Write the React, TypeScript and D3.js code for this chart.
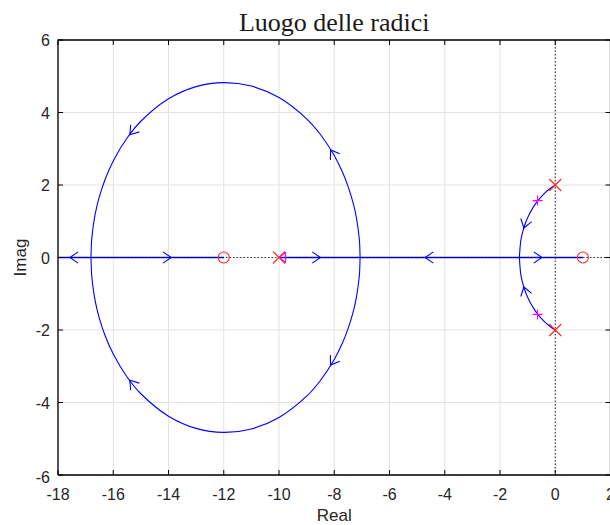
import React from "react";
import * as d3 from "d3";

// ---- data ----
const xTicks = [-18, -16, -14, -12, -10, -8, -6, -4, -2, 0, 2];
const yTicks = [-6, -4, -2, 0, 2, 4, 6];

const openLoopPoles: [number, number][] = [[0, 2], [0, -2], [-10, 0]];
const openLoopZeros: [number, number][] = [[-12, 0], [1, 0]];
const closedLoopPlus: [number, number][] = [[-0.64, 1.57], [-0.64, -1.57]];
const closedLoopTriangle: [number, number][] = [[-9.76, 0]];

// branches, listed in the direction of increasing gain
const upperArc: [number, number][] = [
  [-7.065, 0], [-7.08, 0.37], [-7.1, 0.566], [-7.2, 1.108], [-7.3, 1.457], [-7.5, 1.964],
  [-7.7, 2.352], [-8, 2.812], [-8.5, 3.392], [-9, 3.826], [-10, 4.413], [-11, 4.729],
  [-12, 4.825], [-13, 4.714], [-14, 4.378], [-15, 3.759], [-15.5, 3.296], [-16, 2.664],
  [-16.3, 2.145], [-16.5, 1.684], [-16.6, 1.387], [-16.7, 0.995], [-16.78, 0.49], [-16.806, 0],
];
const lowerArc: [number, number][] = [
  [-7.065, 0], [-7.08, -0.37], [-7.1, -0.566], [-7.2, -1.108], [-7.3, -1.457], [-7.5, -1.964],
  [-7.7, -2.352], [-8, -2.812], [-8.5, -3.392], [-9, -3.826], [-10, -4.413], [-11, -4.729],
  [-12, -4.825], [-13, -4.714], [-14, -4.378], [-15, -3.759], [-15.5, -3.296], [-16, -2.664],
  [-16.3, -2.145], [-16.5, -1.684], [-16.6, -1.387], [-16.7, -0.995], [-16.78, -0.49], [-16.806, 0],
];
const upperSmallArc: [number, number][] = [
  [0, 2], [-0.2, 1.896], [-0.4, 1.763], [-0.6, 1.596], [-0.8, 1.383], [-1.0, 1.095],
  [-1.1, 0.903], [-1.2, 0.642], [-1.25, 0.452], [-1.298, 0],
];
const lowerSmallArc: [number, number][] = [
  [0, -2], [-0.2, -1.896], [-0.4, -1.763], [-0.6, -1.596], [-0.8, -1.383], [-1.0, -1.095],
  [-1.1, -0.903], [-1.2, -0.642], [-1.25, -0.452], [-1.298, 0],
];
const realFromPole: [number, number][] = [[-10, 0], [-7.065, 0]];
const realLeftOfOrigin: [number, number][] = [[-1.298, 0], [-7.065, 0]];
const realToZero: [number, number][] = [[-1.298, 0], [1, 0]];
const realToMinusInf: [number, number][] = [[-16.806, 0], [-18, 0]];
const realToZeroMinus12: [number, number][] = [[-16.806, 0], [-12, 0]];

const smoothBranches = [upperArc, lowerArc, upperSmallArc, lowerSmallArc];
const straightBranches = [realFromPole, realLeftOfOrigin, realToZero, realToMinusInf, realToZeroMinus12];

// arrow positions: [branch index in allBranches, re, im]
const allBranches = [...smoothBranches, ...straightBranches];
const arrows: [number, number, number][] = [
  [0, -15.42, 3.4], [0, -8.13, 2.97], [1, -15.42, -3.4], [1, -8.13, -2.97],
  [2, -1.16, 0.82], [3, -1.16, -0.82],
  [4, -8.5, 0], [5, -4.71, 0], [6, -0.48, 0], [7, -17.57, 0], [8, -13.9, 0],
];

const W = 610, H = 525;
const left = 58, right = 610.5, top = 40, bottom = 475;

export default function App() {
  const x = d3.scaleLinear().domain([-18, 2]).range([left, right]);
  const y = d3.scaleLinear().domain([-6, 6]).range([bottom, top]);
  const line = d3.line<[number, number]>().x(d => x(d[0])).y(d => y(d[1]));
  const smooth = d3.line<[number, number]>().x(d => x(d[0])).y(d => y(d[1])).curve(d3.curveCatmullRom.alpha(0.5));

  const arrowPaths = arrows.map(([bi, re, im]) => {
    const br = allBranches[bi];
    let best = 0, bestD = Infinity;
    for (let i = 0; i < br.length - 1; i++) {
      const mx = (br[i][0] + br[i + 1][0]) / 2, my = (br[i][1] + br[i + 1][1]) / 2;
      const dd = (x(mx) - x(re)) ** 2 + (y(my) - y(im)) ** 2;
      if (dd < bestD) { bestD = dd; best = i; }
    }
    const a = br[best], b = br[best + 1];
    const dx = x(b[0]) - x(a[0]), dy = y(b[1]) - y(a[1]);
    const ang = Math.atan2(dy, dx);
    const px = x(re), py = y(im);
    const t = Math.max(0, Math.min(1, ((px - x(a[0])) * dx + (py - y(a[1])) * dy) / (dx * dx + dy * dy)));
    const tx = x(a[0]) + t * dx, ty = y(a[1]) + t * dy;
    const L = 10, spread = 0.6;
    const a1 = ang + Math.PI - spread, a2 = ang + Math.PI + spread;
    return `M${tx + L * Math.cos(a1)},${ty + L * Math.sin(a1)}L${tx},${ty}L${tx + L * Math.cos(a2)},${ty + L * Math.sin(a2)}`;
  });

  const sans = "'Liberation Sans', Arial, Helvetica, sans-serif";
  const red = "#ff2a2a";
  const magenta = "#ff00ff";

  return (
    <svg width={W} height={H} style={{ position: "absolute", left: 0, top: 0, background: "#fff" }}>
      <defs>
        <clipPath id="plot">
          <rect x={left} y={top} width={right - left} height={bottom - top} />
        </clipPath>
      </defs>
      <rect x={0} y={0} width={W} height={H} fill="#fff" />
      {xTicks.map(t => (
        <line key={"gx" + t} x1={x(t)} x2={x(t)} y1={top} y2={bottom} stroke="#e3e3e3" strokeWidth={1} />
      ))}
      {yTicks.map(t => (
        <line key={"gy" + t} x1={left} x2={right} y1={y(t)} y2={y(t)} stroke="#e3e3e3" strokeWidth={1} />
      ))}
      <g clipPath="url(#plot)">
        {smoothBranches.map((b, i) => (
          <path key={"sb" + i} d={smooth(b) || ""} fill="none" stroke="#0000ff" strokeWidth={1.1} />
        ))}
        {straightBranches.map((b, i) => (
          <path key={"st" + i} d={line(b) || ""} fill="none" stroke="#0000ff" strokeWidth={1.3} />
        ))}
        <line x1={left} x2={right} y1={y(0)} y2={y(0)} stroke="#000" strokeWidth={1} strokeDasharray="1.5,2" opacity={0.75} />
        <line x1={x(0)} x2={x(0)} y1={top} y2={bottom} stroke="#000" strokeWidth={1} strokeDasharray="1.5,2" opacity={0.8} />
        {arrowPaths.map((d, i) => (
          <path key={"ar" + i} d={d} fill="none" stroke="#0000ff" strokeWidth={1.1} />
        ))}
        {closedLoopPlus.map(([re, im], i) => (
          <path key={"cp" + i} d={`M${x(re) - 5},${y(im)}H${x(re) + 5}M${x(re)},${y(im) - 5}V${y(im) + 5}`} stroke={magenta} strokeWidth={1.1} fill="none" />
        ))}
        {closedLoopTriangle.map(([re, im], i) => (
          <path key={"ct" + i} d={`M${x(-10)},${y(im)}L${x(re)},${y(im) - 5}V${y(im) + 5}Z`} stroke={magenta} strokeWidth={1.1} fill="none" />
        ))}
        {openLoopPoles.map(([re, im], i) => (
          <path key={"p" + i} d={`M${x(re) - 6},${y(im) - 6}L${x(re) + 6},${y(im) + 6}M${x(re) - 6},${y(im) + 6}L${x(re) + 6},${y(im) - 6}`} stroke={red} strokeWidth={1.2} fill="none" />
        ))}
        {openLoopZeros.map(([re, im], i) => (
          <circle key={"z" + i} cx={x(re)} cy={y(im)} r={5.5} stroke={red} strokeWidth={1.1} fill="none" />
        ))}
      </g>
      <path d={`M${left},${bottom}V${top}H${right}`} fill="none" stroke="#000" strokeWidth={1.3} />
      <line x1={left} x2={right} y1={bottom} y2={bottom} stroke="#000" strokeWidth={1.3} />
      <line x1={right} x2={right} y1={top} y2={bottom} stroke="#000" strokeWidth={1.3} />
      {xTicks.map(t => (
        <g key={"tx" + t}>
          <line x1={x(t)} x2={x(t)} y1={bottom} y2={bottom - 5} stroke="#000" />
          <line x1={x(t)} x2={x(t)} y1={top} y2={top + 5} stroke="#000" />
          <text x={x(t)} y={bottom + 25} textAnchor="middle" fontFamily={sans} fontSize={16} fill="#262626">{t}</text>
        </g>
      ))}
      {yTicks.map(t => (
        <g key={"ty" + t}>
          <line x1={left} x2={left + 5} y1={y(t)} y2={y(t)} stroke="#000" />
          <line x1={right} x2={right - 5} y1={y(t)} y2={y(t)} stroke="#000" />
          <text x={50} y={y(t) + (t === -6 ? 8 : 6)} textAnchor="end" fontFamily={sans} fontSize={16} fill="#262626">{t}</text>
        </g>
      ))}
      <text x={(left + right) / 2} y={31} textAnchor="middle" fontFamily="'Liberation Serif', 'Times New Roman', serif" fontSize={26} fill="#1a1a1a">Luogo delle radici</text>
      <text x={(left + right) / 2} y={521} textAnchor="middle" fontFamily={sans} fontSize={17} fill="#262626">Real</text>
      <text transform={`translate(26,${y(0)}) rotate(-90)`} textAnchor="middle" fontFamily={sans} fontSize={17} fill="#262626">Imag</text>
    </svg>
  );
}
